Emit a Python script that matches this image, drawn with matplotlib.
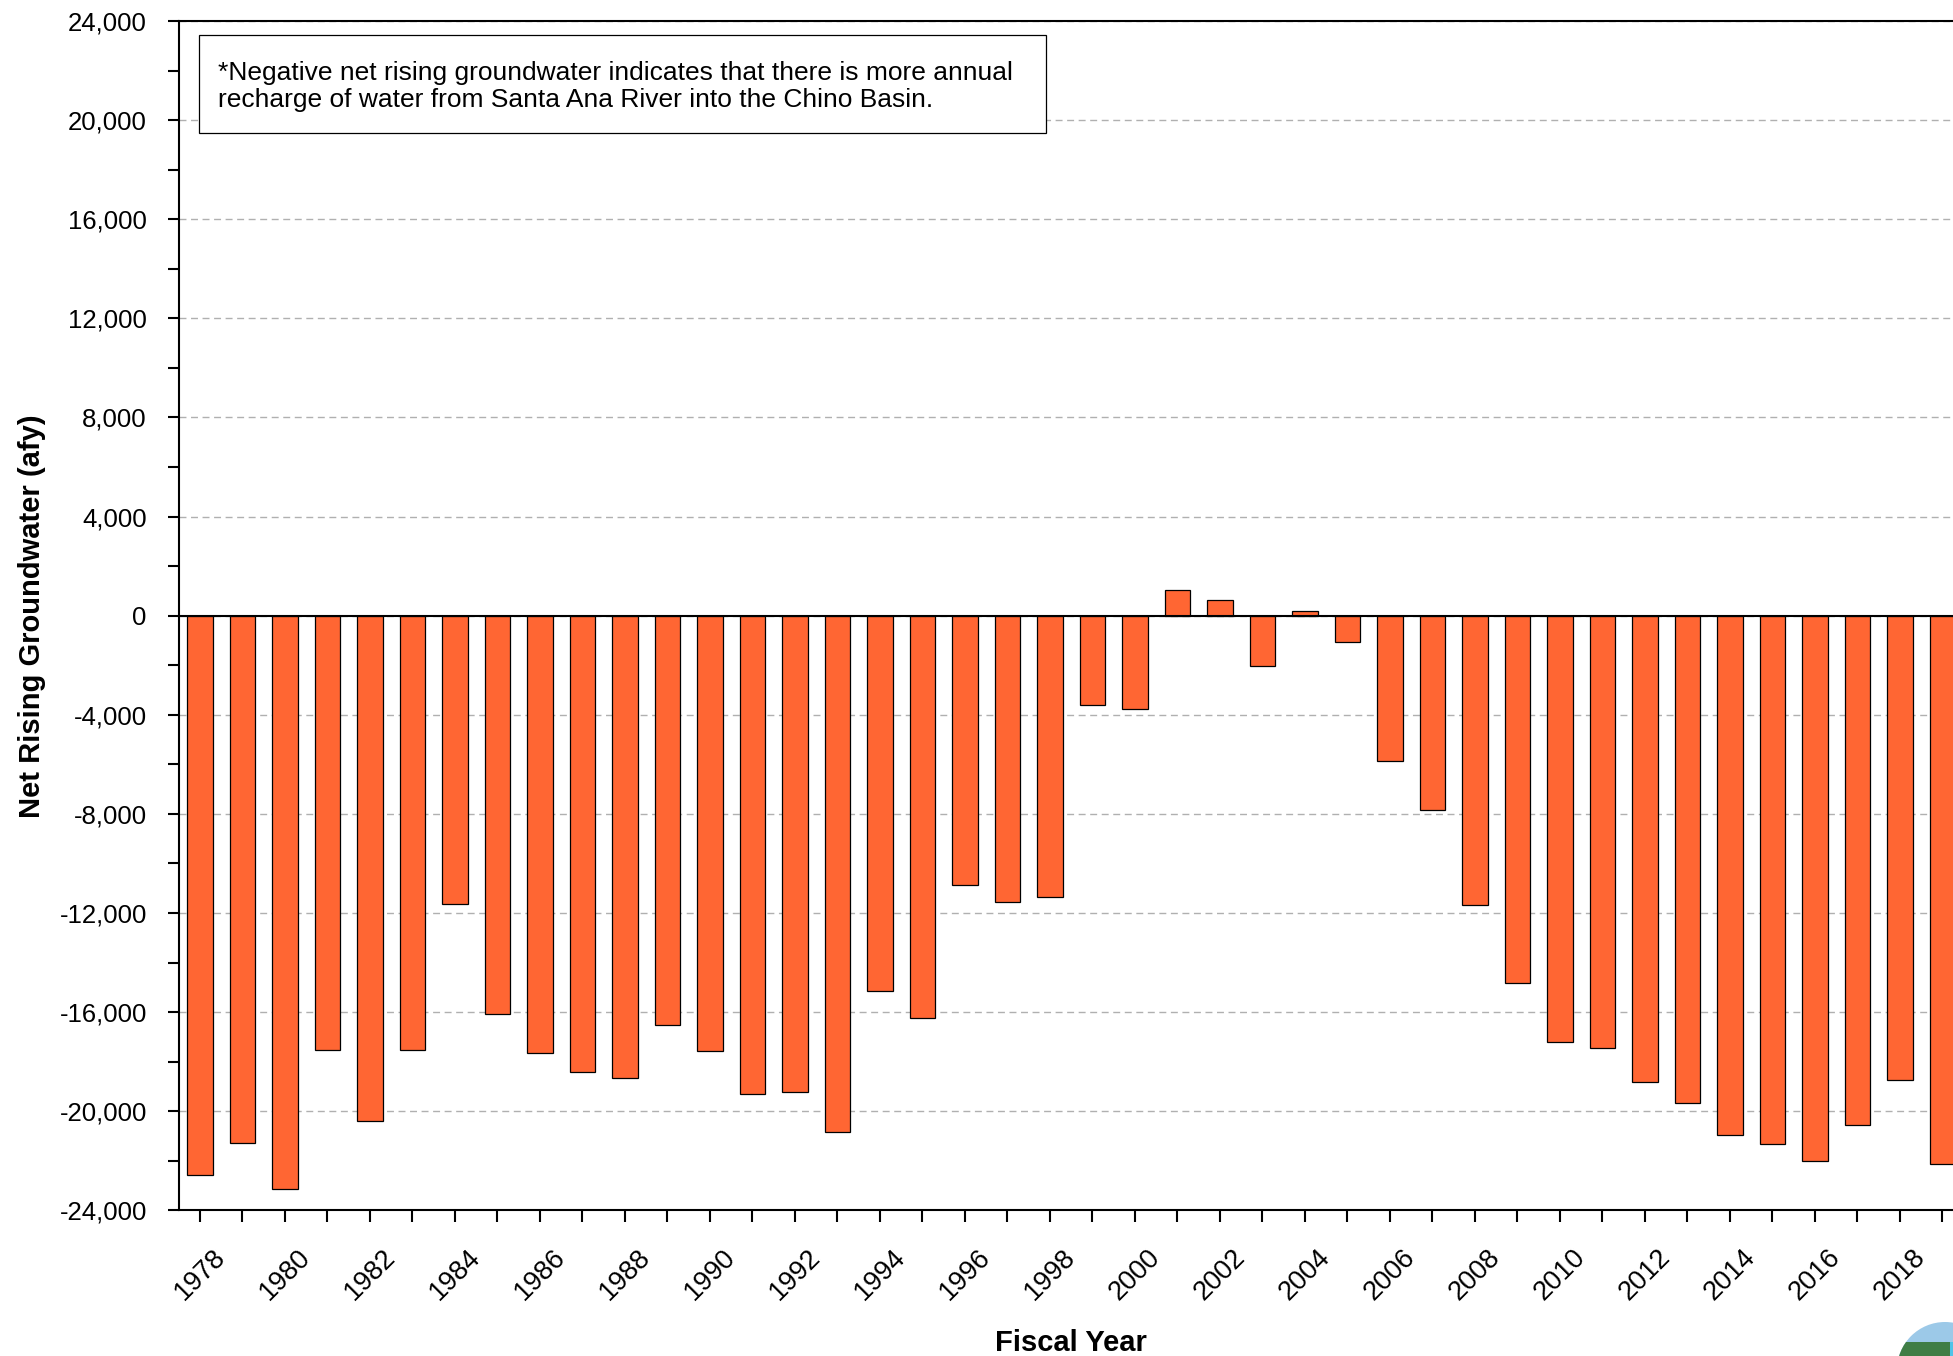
import matplotlib
matplotlib.use("Agg")
import matplotlib.pyplot as plt
from matplotlib.patches import Rectangle, Ellipse
import matplotlib.ticker as mticker

plt.rcParams['font.family'] = ['Liberation Sans', 'DejaVu Sans']

years = list(range(1978, 2020))
net_rising_gw = [
    -22560, -21270, -23130, -17520, -20410, -17540, -11640, -16090, -17660, -18400,
    -18650, -16520, -17560, -19320, -19240, -20830, -15160, -16240, -10880, -11570,
    -11370, -3590, -3780, 1050, 620, -2040, 200, -1070, -5880, -7830,
    -11690, -14840, -17220, -17450, -18820, -19670, -20960, -21340, -22000, -20560,
    -18750, -22130,
]
y_ticks = list(range(-24000, 24001, 4000))
note = ("*Negative net rising groundwater indicates that there is more annual\n"
        "recharge of water from Santa Ana River into the Chino Basin.")
x_label = "Fiscal Year"
y_label = "Net Rising Groundwater (afy)"

W, H = 1953, 1356
fig = plt.figure(figsize=(W / 100, H / 100), dpi=100)
ax_left, ax_right = 178.7, 1963.7
ax_top, ax_bot = 21.1, 1210.3
ax = fig.add_axes([ax_left / W, 1 - ax_bot / H, (ax_right - ax_left) / W, (ax_bot - ax_top) / H])

ax.bar(years, net_rising_gw, width=0.6, color='#FF6633', edgecolor='black', linewidth=0.9, zorder=3)
ax.axhline(0, color='black', linewidth=1.5, zorder=4)

ax.set_xlim(1977.5, 2019.5)
ax.set_ylim(-24000, 24000)
ax.set_yticks(y_ticks)
ax.yaxis.set_minor_locator(mticker.MultipleLocator(2000))
ax.yaxis.set_major_formatter(mticker.FuncFormatter(lambda v, p: f"{int(v):,}"))
ax.yaxis.grid(True, which='major', color='#b0b0b0', linestyle=(0, (5, 3.3)), linewidth=1.0, zorder=0)

ax.set_xticks(years)
ax.set_xticklabels([str(y) if (y - 1978) % 2 == 0 else '' for y in years],
                   rotation=45, ha='center', va='top', fontsize=19.5)
ax.tick_params(axis='x', which='major', length=8.6, width=1.5, pad=16, direction='out')
ax.tick_params(axis='y', which='both', length=8, width=1.5, pad=15, direction='out', labelsize=18.5)

for s in ['left', 'bottom', 'top', 'right']:
    ax.spines[s].set_linewidth(1.5)

# note box
bx0, by0, bx1, by1 = 199, 35, 1046, 133
fig.patches.append(Rectangle((bx0 / W, 1 - by1 / H), (bx1 - bx0) / W, (by1 - by0) / H,
                             transform=fig.transFigure, facecolor='white', edgecolor='black',
                             linewidth=0.9, zorder=5))
fig.text(218 / W, 1 - 61 / H, note, fontsize=19, ha='left', va='top', linespacing=1.18, zorder=6)

fig.text(31.7 / W, 1 - 615.7 / H, y_label, rotation=90, ha='center', va='center',
         fontsize=21, fontweight='bold')
fig.text(1071 / W, 1 - 1351 / H, x_label, ha='center', va='baseline',
         fontsize=21, fontweight='bold')

# logo hint (bottom-right corner)
cx, cy, r = 1945, 1370, 48
globe = Ellipse((cx / W, 1 - cy / H), 2 * r / W, 2 * r / H, transform=fig.transFigure,
                facecolor='#9cc9e8', edgecolor='none', zorder=5)
fig.patches.append(globe)
band = Rectangle(((cx - r) / W, 1 - (cy + r) / H), (2 * r) / W, (cy + r - 1342) / H,
                 transform=fig.transFigure, facecolor='#3f7d45', edgecolor='none', zorder=6)
band.set_clip_path(globe)
fig.patches.append(band)
water = Rectangle(((cx + 5) / W, 1 - (cy + r) / H), r / W, (cy + r - 1342) / H,
                  transform=fig.transFigure, facecolor='#4fc3e8', edgecolor='none', zorder=7)
water.set_clip_path(globe)
fig.patches.append(water)

fig.savefig('out.png', dpi=100)
